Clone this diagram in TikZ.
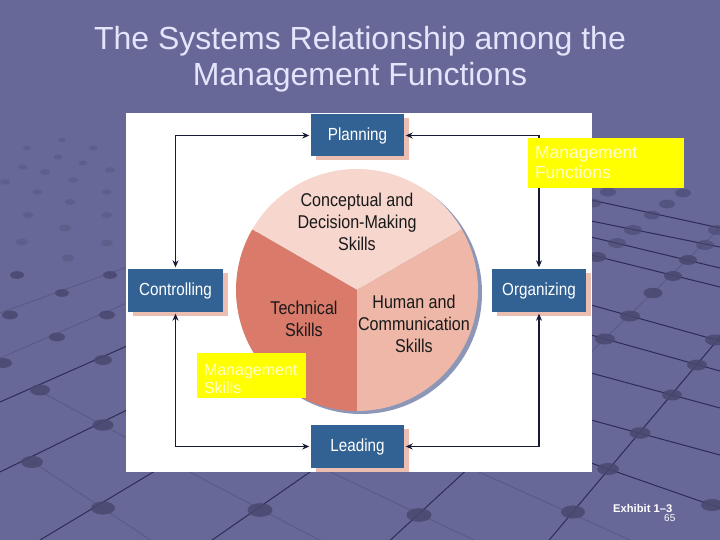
\documentclass[tikz,border=0pt]{standalone}
\usepackage{fontspec}
\setmainfont{Liberation Sans}
\newfontfamily\condf[FakeStretch=0.87]{Liberation Sans}
\usetikzlibrary{arrows.meta,shadows}
\definecolor{bgc}{RGB}{104,104,152}
\definecolor{titlec}{RGB}{228,228,252}
\definecolor{boxblue}{RGB}{50,98,148}
\definecolor{shpink}{RGB}{236,190,178}
\definecolor{sectop}{RGB}{246,214,205}
\definecolor{secleft}{RGB}{217,122,106}
\definecolor{secright}{RGB}{238,183,168}
\definecolor{cshadow}{RGB}{140,150,182}
\definecolor{navy}{RGB}{22,26,52}
\definecolor{ylw}{RGB}{255,255,0}
\definecolor{ylwtxt}{RGB}{255,255,205}
\definecolor{gridstrong}{RGB}{44,44,86}
\definecolor{gridfaint}{RGB}{88,88,134}
\definecolor{dotc}{RGB}{72,72,112}
\begin{document}
\begin{tikzpicture}[x=1pt,y=-1pt,
  fbox/.style={fill=boxblue, text=white, font=\condf\fontsize{17.5}{20}\selectfont,
    minimum width=93pt, minimum height=42pt, inner sep=0pt,
    drop shadow={shadow xshift=5pt, shadow yshift=-4pt, fill=shpink, opacity=1}},
  skilltxt/.style={font=\condf\fontsize{18.5}{22}\selectfont, align=center, text=black!90, inner sep=0pt},
  conn/.style={draw=navy, line width=1.1pt, {Stealth[length=7pt,width=6pt]}-{Stealth[length=7pt,width=6pt]},
    shorten <=1.5pt, shorten >=1.5pt},
  ybox/.style={fill=ylw, text=ylwtxt, align=left, inner sep=0pt},
  gs/.style={draw=gridstrong, line width=1pt},
  gf/.style={draw=gridfaint, line width=0.8pt}]
\useasboundingbox (0,0) rectangle (720,540);
\fill[bgc] (0,0) rectangle (720,540);
% background perspective grid
\draw[gs] (40,540) -- (160,468);
\draw[gs] (205,545) -- (320,465);
\draw[gs] (385,545) -- (472,465);
\draw[gs] (545,545) -- (720,337);
\draw[gf] (180,467) -- (325,543);
\draw[gf] (320,467) -- (480,543);
\draw[gf] (470,468) -- (630,540);
\draw[gf] (30,460) -- (155,543);
\draw[gf] (43,393) -- (125,437);
\draw[gs] (0,472) -- (127,410);
\draw[gs] (0,402) -- (127,346);
\draw[gf] (0,358) -- (127,303);
\draw[gf] (0,313) -- (127,267);
\foreach \ya/\yb in {463/508,420/455,373/408,335/371,305/341,255/287,237/268,221/247,200/228}
  \draw[gs] (591,\ya) -- (720,\yb);
\draw[gf] (591,352) -- (720,228);
\foreach \x/\y/\r in {27/148/4,62/140/4,93/148/4.5,23/167/4.5,58/157/4.5,83/163/4.5,110/170/5,45/172/5,5/182/5,37/192/5,73/180/5,107/192/5,70/202/5.5,28/215/5.5,107/215/5.5,65/228/6,22/242/6,107/243/6,68/258/6.5}
  \fill[dotc, opacity=0.3] (\x,\y) ellipse[x radius=\r, y radius=0.55*\r];
\foreach \x/\y/\r in {17/275/7,110/275/7,62/293/7,10/315/8,107/315/8,57/337/8,3/363/9,103/360/9,40/390/10,103/425/10.5,32/462/11,103/508/12,260/510/12.5,419/515/12.5,573/512/12}
  \fill[dotc, opacity=0.85] (\x,\y) ellipse[x radius=\r, y radius=0.55*\r];
\foreach \x/\y/\r in {608/192/8,683/193/8,593/203/8,667/204/8,652/215/8,633/230/9,717/230/9,617/243/9,705/245/9}
  \fill[dotc, opacity=0.6] (\x,\y) ellipse[x radius=\r, y radius=0.55*\r];
\foreach \x/\y/\r in {597/257/9,688/260/9,673/276/9,653/293/9.5,630/316/10,605/339/10,715/340/10,697/365/10,672/395/10,640/433/10.5,608/469/11,712/505/11}
  \fill[dotc, opacity=0.85] (\x,\y) ellipse[x radius=\r, y radius=0.55*\r];
% title
\node[anchor=base, font=\fontsize{32}{36}\selectfont, text=titlec, inner sep=0pt] (t1) at (360,50) {The Systems Relationship among the};
\node[anchor=base, font=\fontsize{32}{36}\selectfont, text=titlec, inner sep=0pt] (t2) at (360,86) {Management Functions};
% white panel
\fill[white] (125.5,113) rectangle (591.5,471.5);
% circle
\fill[cshadow] (361,293) circle[radius=121];
\coordinate (cc) at (357,290);
\fill[sectop] (cc) -- ++(-30:121) arc[start angle=-30, end angle=-150, radius=121] -- cycle;
\fill[secleft] (cc) -- ++(-150:121) arc[start angle=-150, end angle=-270, radius=121] -- cycle;
\fill[secright] (cc) -- ++(90:121) arc[start angle=90, end angle=-30, radius=121] -- cycle;
\node[skilltxt] (concept) at (357,222) {Conceptual and\\Decision-Making\\Skills};
\node[skilltxt] (tech) at (304,318.5) {Technical\\Skills};
\node[skilltxt] (human) at (414,324) {Human and\\Communication\\Skills};
% function boxes
\node[fbox] (plan) at (357.5,135.5) {Planning};
\node[fbox, minimum width=95pt, minimum height=43pt] (ctrl) at (175.5,290.5) {Controlling};
\node[fbox, minimum width=94pt, minimum height=43pt] (org) at (539,290.5) {Organizing};
\node[fbox, minimum height=43pt] (lead) at (357.5,446.5) {Leading};
% connectors
\draw[conn] (ctrl.north) |- (plan.west);
\draw[conn] (org.north) |- (plan.east);
\draw[conn] (ctrl.south) |- (lead.west);
\draw[conn] (org.south) |- (lead.east);
% yellow labels
\node[ybox, font=\fontsize{17.5}{20}\selectfont, minimum width=156pt, minimum height=50pt, text width=142pt] (mf) at (606,163) {Management\\Functions};
\node[ybox, font=\fontsize{16}{18}\selectfont, minimum width=109pt, minimum height=45pt, text width=95pt] (ms) at (251.5,375.5) {\rule{0pt}{18pt}Management\\Skills};
% exhibit
\node[anchor=base west, font=\bfseries\fontsize{11.2}{13}\selectfont, text=white, inner sep=0pt] (exh) at (613,512) {Exhibit 1–3};
\node[anchor=base west, font=\fontsize{10}{12}\selectfont, text=white, inner sep=0pt] (pg) at (664,521) {65};
\end{tikzpicture}
\end{document}
